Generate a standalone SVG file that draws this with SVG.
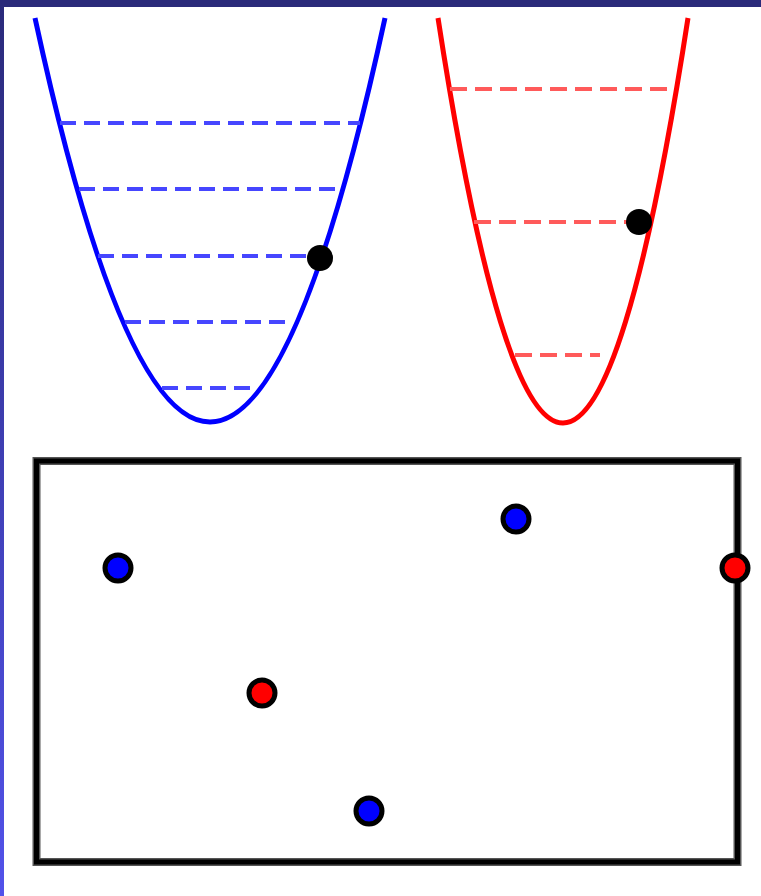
<svg xmlns="http://www.w3.org/2000/svg" width="761" height="896" viewBox="0 0 761 896">
<defs>
<linearGradient id="lbar" x1="0" y1="0" x2="0" y2="1">
<stop offset="0" stop-color="#2a2a7a"/>
<stop offset="1" stop-color="#5252ea"/>
</linearGradient>
<style>
.bcurve{fill:none;stroke:#0000ff;stroke-width:5}
.rcurve{fill:none;stroke:#ff0000;stroke-width:5}
.bdash{stroke:#4646ff;stroke-width:4;stroke-dasharray:16 8}
.rdash{stroke:#ff5a5a;stroke-width:4;stroke-dasharray:17 8}
.dot{fill:#000}
.bp{fill:#0000ff;stroke:#000;stroke-width:5}
.rp{fill:#ff0000;stroke:#000;stroke-width:5}
</style>
</defs>
<rect x="0" y="0" width="761" height="896" fill="#ffffff"/>
<rect x="0" y="0" width="761" height="7" fill="#2a2a7a"/>
<rect x="0" y="0" width="4" height="896" fill="url(#lbar)"/>
<g id="blue-well">
<path class="bcurve" d="M35,18 Q210,826 385,18"/>
<line class="bdash" x1="60" y1="123" x2="360" y2="123"/>
<line class="bdash" x1="79" y1="189" x2="342" y2="189"/>
<line class="bdash" x1="98" y1="256" x2="312" y2="256"/>
<line class="bdash" x1="125" y1="322" x2="292" y2="322"/>
<line class="bdash" x1="162" y1="388" x2="252" y2="388"/>
<circle class="dot" cx="320" cy="258" r="13"/>
</g>
<g id="red-well">
<path class="rcurve" d="M438,18 Q563,828 688,18"/>
<line class="rdash" x1="450" y1="89" x2="674" y2="89"/>
<line class="rdash" x1="474" y1="222" x2="632" y2="222"/>
<line class="rdash" x1="515" y1="355" x2="600" y2="355"/>
<circle class="dot" cx="639" cy="222" r="13"/>
</g>
<g id="box">
<rect x="36.5" y="461" width="701" height="401" fill="none" stroke="#555" stroke-width="8"/>
<rect x="36.5" y="461" width="701" height="401" fill="none" stroke="#000" stroke-width="5"/>
</g>
<g id="particles">
<circle class="bp" cx="118" cy="568" r="13"/>
<circle class="bp" cx="516" cy="519" r="13"/>
<circle class="bp" cx="369" cy="811" r="13"/>
<circle class="rp" cx="262" cy="693" r="13"/>
<circle class="rp" cx="735" cy="568" r="13"/>
</g>
<g id="connectors"></g>
</svg>
